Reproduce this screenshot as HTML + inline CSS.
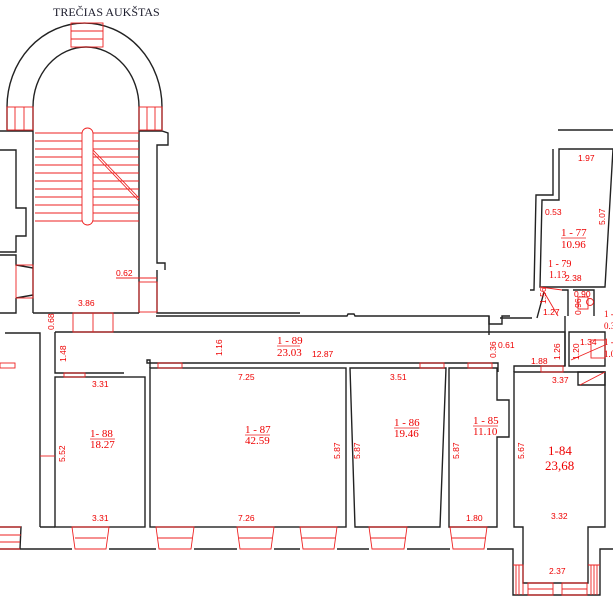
<!DOCTYPE html>
<html><head><meta charset="utf-8"><style>
html,body{margin:0;padding:0;background:#fff;width:613px;height:600px;overflow:hidden}
svg{display:block}
text{font-family:"Liberation Sans",sans-serif;fill:#e00;font-size:8.5px}
.s{font-family:"Liberation Serif",serif;font-size:11px}
</style></head><body>
<svg width="613" height="600" viewBox="0 0 613 600" xmlns="http://www.w3.org/2000/svg">
<g fill="none" stroke="#222" stroke-width="1.4">
<path d="M7,130 L7,107 A77.5,84 0 0 1 162,107 L162,130"/>
<path d="M33,313 L33,107 A53,60 0 0 1 139,107 L139,313"/>
<path d="M0,131 L33,131 M139,131 L162,131 L168,133 L168,145 L157,145 L157,263 L165,263 L165,270"/>
<path d="M0,150 L16,150 L16,208 L26,208 L26,236 L16,236 L16,252 L0,252 M0,255 L16,255 L16,265 L33,268 M16,298 L33,295 M16,298 L16,313 L0,313"/>
<path d="M33,313 L139,313 M157,270 L157,313 L300,313"/>
<path d="M5,333 L40,333 L40,527 M55,332 L565,332 L565,366 L514,366 L514,372"/>
<path d="M55,332 L55,373 L124,373 M150,368 L150,360 L147,360 L147,363 L498,363 L498,372"/>
<path d="M156,316 L347,316 L348,314 L354,314 L355,316 L489,316 L489,324 L502,324 L502,316 L510,316"/>
<rect x="55" y="377" width="90" height="150"/>
<rect x="150" y="368" width="196" height="159"/>
<path d="M350,368 L446,368 L440,527 L355,527 Z"/>
<path d="M449,368 L497,368 L497,400 L509,400 L509,437 L497,437 L497,527 L449,527 Z"/>
<path d="M514,372 L605,372 L605,527 L588,527 L588,583 L523,583 L523,527 L514,527 Z"/>
<path d="M0,549 L72,549 M109,549 L156,549 M194,549 L237,549 M274,549 L300,549 M337,549 L369,549 M407,549 L450,549 M487,549 L513,549 L513,595 L600,595 L600,549 L613,549"/>
<path d="M0,527 L21,527 L20,549 M40,527 L55,527"/>
<path d="M559,149 L613,149 L605,287 L540,287 L542,200 L559,200 Z"/>
<path d="M558,130 L613,130"/>
<path d="M553,149 L553,195 L536,195 L534,290 L530,290 M544,292 L537,318 M562,290 L568,290 L568,316 M573,290 L594,290 L594,316 M565,316 L565,366 M569,332 L605,332 L605,366 L569,366 Z"/>
<path d="M489,316 L489,335 M500,318 L532,318"/>
<path d="M578,372 L605,372 L605,385 L578,385 Z"/>
</g>
<g fill="none" stroke="#e22" stroke-width="0.9">
<rect x="71" y="23" width="32" height="24"/>
<path d="M71,31 H103 M71,39 H103"/>
<rect x="7" y="107" width="26" height="23"/><path d="M15,107 V130 M24,107 V130"/>
<rect x="139" y="107" width="23" height="23"/><path d="M147,107 V130 M155,107 V130"/>
<path d="M35,133 H139 M35,141 H139 M35,149 H139 M35,157 H139 M35,165 H139 M35,173 H139 M35,181 H139 M35,189 H139 M35,197 H139 M35,205 H139 M35,213 H139 M35,221 H139"/>
<rect x="82" y="128" width="11" height="97" rx="5.5" fill="#fff"/>
<path d="M93,150 L139,198 M93,153 L139,201"/>
<rect x="16" y="265" width="17" height="33"/>
<rect x="139" y="282" width="18" height="30"/>
<path d="M116,278 L157,278"/>
<rect x="73" y="313" width="40" height="19"/><path d="M93,313 V332"/>
<rect x="64" y="373" width="21" height="4"/>
<rect x="158" y="363" width="24" height="5"/>
<rect x="420" y="363" width="24" height="5"/>
<rect x="468" y="363" width="24" height="5"/>
<rect x="541" y="366" width="22" height="6"/>
<rect x="0" y="363" width="15" height="5"/>
<path d="M72,527 h37 l-3,22 h-31 z M75,538 h31 M156,527 h38 l-3,22 h-32 z M158,538 h34 M237,527 h37 l-3,22 h-31 z M239,538 h33 M300,527 h37 l-3,22 h-31 z M302,538 h33 M369,527 h38 l-3,22 h-32 z M371,538 h34 M450,527 h37 l-3,22 h-31 z M452,538 h33"/>
<path d="M0,527 h21 M0,535 h21 M0,542 h20 M0,549 h20"/>
<path d="M513,565 h10 v30 M516,565 v30 M519,565 v30 M588,565 h12 M591,565 v30 M594,565 v30 M597,565 v30"/>
<path d="M528,583 h25 v12 h-25 z M528,589 h25 M562,583 h25 v12 h-25 z M562,589 h25"/>
<path d="M540,287 L562,290 M544,292 L558,316"/>
<rect x="578" y="297" width="10" height="12"/><circle cx="590" cy="302" r="3.5"/>
<rect x="591" y="340" width="14" height="18"/><path d="M571,360 L605,345"/>
<path d="M580,385 L605,372"/>
<path d="M40,456 H55"/>
</g>
<text x="53" y="16" class="s" style="fill:#1a1a2a;font-size:12px">TREČIAS AUKŠTAS</text>
<text x="116" y="276">0.62</text>
<text x="78" y="306">3.86</text>
<text x="54" y="330" transform="rotate(-90 54 330)" font-size="7.5">0.68</text>
<text x="66" y="362" transform="rotate(-90 66 362)">1.48</text>
<text x="222" y="356" transform="rotate(-90 222 356)">1.16</text>
<text x="277" y="344" class="s">1 - 89</text><text x="277" y="356" class="s">23.03</text>
<path d="M277,346 H300" stroke="#e22" stroke-width="0.7"/>
<text x="312" y="357">12.87</text>
<text x="496" y="358" transform="rotate(-90 496 358)" font-size="7.5">0.36</text>
<text x="498" y="348">0.61</text>
<text x="531" y="364">1.88</text>
<text x="560" y="360" transform="rotate(-90 560 360)">1.26</text>
<text x="579" y="360" transform="rotate(-90 579 360)">1.20</text>
<text x="580" y="345">1.34</text>
<text x="604" y="345" class="s" style="font-size:9px">1 -</text>
<text x="604" y="357" class="s" style="font-size:9px">1.0</text>
<text x="552" y="383">3.37</text>
<text x="92" y="387">3.31</text>
<text x="238" y="380">7.25</text>
<text x="390" y="380">3.51</text>
<text x="90" y="437" class="s">1- 88</text><text x="90" y="448" class="s">18.27</text>
<path d="M90,439 H115" stroke="#e22" stroke-width="0.7"/>
<text x="245" y="433" class="s">1 - 87</text><text x="245" y="444" class="s">42.59</text>
<path d="M245,435 H270" stroke="#e22" stroke-width="0.7"/>
<text x="394" y="426" class="s">1 - 86</text><text x="394" y="437" class="s">19.46</text>
<path d="M394,428 H419" stroke="#e22" stroke-width="0.7"/>
<text x="473" y="424" class="s">1 - 85</text><text x="473" y="435" class="s">11.10</text>
<path d="M473,426 H498" stroke="#e22" stroke-width="0.7"/>
<text x="548" y="455" class="s" style="font-size:13px">1-84</text>
<text x="545" y="470" class="s" style="font-size:13px">23,68</text>
<text x="65" y="462" transform="rotate(-90 65 462)">5.52</text>
<text x="340" y="459" transform="rotate(-90 340 459)">5.87</text>
<text x="360" y="459" transform="rotate(-90 360 459)">5.87</text>
<text x="459" y="459" transform="rotate(-90 459 459)">5.87</text>
<text x="524" y="459" transform="rotate(-90 524 459)">5.67</text>
<text x="92" y="521">3.31</text>
<text x="238" y="521">7.26</text>
<text x="466" y="521">1.80</text>
<text x="551" y="519">3.32</text>
<text x="549" y="574">2.37</text>
<text x="578" y="161">1.97</text>
<text x="545" y="215">0.53</text>
<text x="605" y="225" transform="rotate(-90 605 225)">5.07</text>
<text x="561" y="236" class="s">1 - 77</text><text x="561" y="248" class="s">10.96</text>
<path d="M561,238 H586" stroke="#e22" stroke-width="0.7"/>
<text x="548" y="267" class="s" style="font-size:10px">1 - 79</text>
<text x="549" y="278" class="s" style="font-size:10px">1.13</text>
<text x="565" y="281">2.38</text>
<text x="546" y="304" transform="rotate(-90 546 304)">1.56</text>
<text x="543" y="315">1.27</text>
<text x="574" y="297">0.90</text>
<text x="581" y="315" transform="rotate(-90 581 315)" font-size="7.5">0.96</text>
<text x="604" y="317" class="s" style="font-size:9px">1 -</text>
<text x="604" y="329" class="s" style="font-size:9px">0.3</text>
</svg>
</body></html>
